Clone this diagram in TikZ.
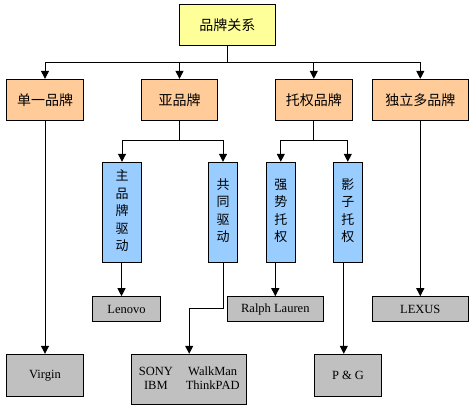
\documentclass[tikz,border=0pt]{standalone}
\usepackage{fontspec}
\setmainfont{Liberation Serif}
\newfontfamily\cjk{Noto Sans CJK SC}
\usetikzlibrary{arrows.meta}
\definecolor{cyellow}{HTML}{FFFF99}
\definecolor{corange}{HTML}{FFCC99}
\definecolor{cblue}{HTML}{99CCFF}
\definecolor{cgray}{HTML}{C0C0C0}
\newcommand{\vtext}[1]{\raisebox{4pt}{\begin{tabular}{@{}c@{}}#1\end{tabular}}}
\begin{document}
\begin{tikzpicture}[x=1pt,y=-1pt,
  box/.style={draw=black,line width=1pt,inner sep=0pt,align=center},
  topbox/.style={box,fill=cyellow,minimum width=96pt,minimum height=40.7pt,font=\cjk\fontsize{14}{16}\selectfont},
  lvbox/.style={box,fill=corange,minimum height=40.7pt,font=\cjk\fontsize{14}{16}\selectfont},
  vbox/.style={box,fill=cblue,minimum height=100pt,font=\cjk\fontsize{13}{16.7}\selectfont},
  gbox/.style={box,fill=cgray,font=\rmfamily\fontsize{12.5}{16}\selectfont},
  conn/.style={draw=black,line width=1pt},
  arr/.style={conn,-{Triangle[width=8pt,length=8pt]}}]
\useasboundingbox (0,0) rectangle (474,411);
% top
\node[topbox] (top) at (227.3,24.7) {品牌关系};
% level 1
\node[lvbox,minimum width=76.6pt] (single) at (45,99.7) {单一品牌};
\node[lvbox,minimum width=75.6pt] (sub) at (179.5,99.7) {亚品牌};
\node[lvbox,minimum width=77pt] (endorse) at (313.8,99.7) {托权品牌};
\node[lvbox,minimum width=96pt] (indep) at (420.3,99.7) {独立多品牌};
% level 2
\node[vbox,minimum width=39.4pt] (master) at (122,212.3) {\vtext{主\\[0.7pt]品\\[0.7pt]牌\\[0.7pt]驱\\[0.7pt]动}};
\node[vbox,minimum width=28.6pt] (co) at (223,212.3) {\vtext{共\\[0.7pt]同\\[0.7pt]驱\\[0.7pt]动}};
\node[vbox,minimum width=29pt] (strong) at (280.8,212.3) {\vtext{强\\[0.7pt]势\\[0.7pt]托\\[0.7pt]权}};
\node[vbox,minimum width=29pt] (shadow) at (347.8,212.3) {\vtext{影\\[0.7pt]子\\[0.7pt]托\\[0.7pt]权}};
% examples
\node[gbox,minimum width=68.4pt,minimum height=25pt] (lenovo) at (126.5,309.2) {Lenovo};
\node[gbox,minimum width=96pt,minimum height=25pt] (ralph) at (275.3,309.2) {Ralph Lauren};
\node[gbox,minimum width=96pt,minimum height=25pt] (lexus) at (420.3,309.2) {LEXUS};
\node[gbox,minimum width=76.6pt,minimum height=42.4pt] (virgin) at (45,375.5) {Virgin};
\node[gbox,minimum width=115pt,minimum height=50pt] (sony) at (189.2,379.3)
  {\raisebox{2pt}{\begin{tabular}{@{}c@{\hspace{13pt}}c@{}}SONY & WalkMan\\[-2pt] IBM & ThinkPAD\end{tabular}}};
\node[gbox,minimum width=67.4pt,minimum height=42.4pt] (pg) at (348,375.5) {P \& G};
% coordinates
\coordinate (bus) at (227.3,62.3);
\coordinate (subbus) at (179.5,141);
\coordinate (endbus) at (313.8,141);
\coordinate (bend) at (189.2,308.3);
% connectors
\draw[arr] (top.south) -- (bus) -| (single.north);
\draw[arr] (top.south) -- (bus) -| (sub.north);
\draw[arr] (top.south) -- (bus) -| (endorse.north);
\draw[arr] (top.south) -- (bus) -| (indep.north);
\draw[arr] (single.south) -- (virgin.north);
\draw[arr] (indep.south) -- (lexus.north);
\draw[arr] (sub.south) -- (subbus) -| (master.north);
\draw[arr] (sub.south) -- (subbus) -| (co.north);
\draw[arr] (endorse.south) -- (endbus) -| (strong.north);
\draw[arr] (endorse.south) -- (endbus) -| (shadow.north);
\draw[arr] ([xshift=-0.5pt]master.south) -- ([xshift=-0.5pt]master.south |- lenovo.north);
\draw[arr] (co.south) |- (bend) -- (sony.north);
\draw[arr] (ralph.north |- strong.south) -- (ralph.north);
\draw[arr] ([xshift=-4pt]shadow.south) -- ([xshift=-4pt]shadow.south |- pg.north);
\end{tikzpicture}
\end{document}
